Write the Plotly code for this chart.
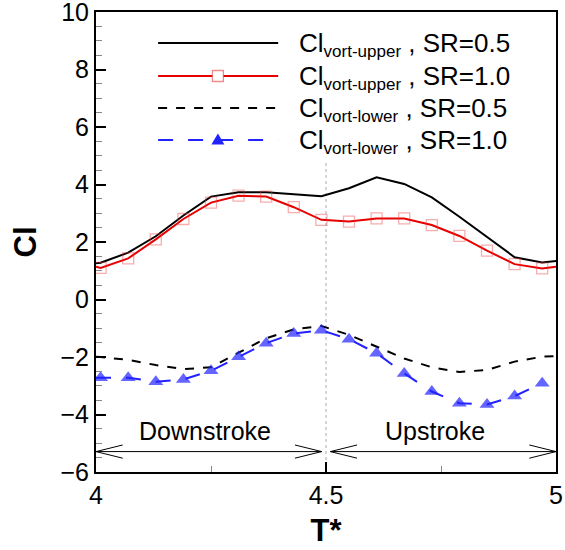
import plotly.graph_objects as go

# ---------------- data ----------------
T = [4.0, 4.01, 4.07, 4.13, 4.19, 4.25, 4.31, 4.37, 4.43, 4.49,
     4.55, 4.61, 4.67, 4.73, 4.79, 4.85, 4.91, 4.97, 5.0]
# line end points (4.0 / 5.0) carry no marker
marker_on = [0, 1, 1, 1, 1, 1, 1, 1, 1, 1, 1, 1, 1, 1, 1, 1, 1, 1, 0]

cl_upper_sr05 = [1.26, 1.28, 1.63, 2.20, 2.92, 3.58, 3.73, 3.73, 3.66, 3.59,
                 3.87, 4.25, 4.02, 3.55, 2.88, 2.16, 1.47, 1.29, 1.34]
cl_upper_sr10 = [1.14, 1.10, 1.43, 2.09, 2.80, 3.37, 3.61, 3.58, 3.21, 2.77,
                 2.71, 2.82, 2.82, 2.59, 2.21, 1.70, 1.23, 1.08, 1.14]
cl_lower_sr05 = [-1.99, -2.00, -2.10, -2.28, -2.42, -2.36, -1.85, -1.35, -1.04, -0.92,
                 -1.23, -1.64, -2.05, -2.36, -2.52, -2.45, -2.16, -1.99, -1.97]
cl_lower_sr10 = [-2.72, -2.72, -2.72, -2.86, -2.78, -2.48, -1.99, -1.52, -1.18, -1.07,
                 -1.38, -1.87, -2.57, -3.20, -3.61, -3.65, -3.36, -2.91, None]

series_names = ["Cl<sub>vort-upper</sub> , SR=0.5",
                "Cl<sub>vort-upper</sub> , SR=1.0",
                "Cl<sub>vort-lower</sub> , SR=0.5",
                "Cl<sub>vort-lower</sub> , SR=1.0"]
legend_labels = ["Cl<sub><span style='font-size:17px'>vort-upper</span></sub> , SR=0.5",
                 "Cl<sub><span style='font-size:17px'>vort-upper</span></sub> , SR=1.0",
                 "Cl<sub><span style='font-size:17px'>vort-lower</span></sub> , SR=0.5",
                 "Cl<sub><span style='font-size:17px'>vort-lower</span></sub> , SR=1.0"]

phase_bounds = [4.0, 4.5, 5.0]
phase_labels = ["Downstroke", "Upstroke"]
arrow_level = -5.29
label_level = -4.57

x_ticks = [4, 4.5, 5]
x_ticktext = ["4", "4.5", "5"]

# ---------------- styles ----------------
FONT = "Liberation Sans, Arial, Helvetica, sans-serif"
RED = "#e60000"
RED_MK = "rgba(235,60,60,0.6)"
BLUE = "#2222ff"

fig = go.Figure()

fig.add_trace(go.Scatter(x=T, y=cl_upper_sr05, mode="lines", name=series_names[0],
                         line=dict(color="black", width=2)))
fig.add_trace(go.Scatter(x=T, y=cl_upper_sr10, mode="lines+markers", name=series_names[1],
                         line=dict(color=RED, width=2),
                         marker=dict(symbol="square-open", size=[11 * m for m in marker_on],
                                     color=RED_MK, line=dict(color=RED_MK, width=1.3))))
fig.add_trace(go.Scatter(x=T, y=cl_lower_sr05, mode="lines", name=series_names[2],
                         line=dict(color="black", width=2, dash="9px,9px")))
fig.add_trace(go.Scatter(x=T, y=cl_lower_sr10, mode="lines+markers", name=series_names[3],
                         line=dict(color=BLUE, width=2, dash="15px,15px"),
                         marker=dict(symbol="triangle-up", size=[13 * m for m in marker_on],
                                     color=BLUE, line=dict(width=0))))

shapes = []
annotations = []

# vertical dotted separator at mid-cycle
shapes.append(dict(type="line", xref="x", yref="y", x0=phase_bounds[1], x1=phase_bounds[1],
                   y0=-6, y1=4.8, line=dict(color="#aaaaaa", width=1, dash="dot"), layer="below"))

# stroke arrows
ah_dx = 0.058
ah_dy = 0.23
gap = 0.0095
for i, lab in enumerate(phase_labels):
    a = phase_bounds[i] + (gap if i > 0 else 0)
    b = phase_bounds[i + 1] - (gap if i == 0 else 0)
    shapes.append(dict(type="line", xref="x", yref="y", x0=a, x1=b, y0=arrow_level, y1=arrow_level,
                       line=dict(color="black", width=1)))
    shapes.append(dict(type="path", xref="x", yref="y",
                       path=f"M {a+ah_dx},{arrow_level+ah_dy} L {a},{arrow_level} L {a+ah_dx},{arrow_level-ah_dy}",
                       line=dict(color="black", width=1)))
    shapes.append(dict(type="path", xref="x", yref="y",
                       path=f"M {b-ah_dx},{arrow_level+ah_dy} L {b},{arrow_level} L {b-ah_dx},{arrow_level-ah_dy}",
                       line=dict(color="black", width=1)))
    annotations.append(dict(x=(phase_bounds[i] + phase_bounds[i + 1]) / 2 - 0.013, y=label_level,
                            xref="x", yref="y", text=lab, showarrow=False,
                            font=dict(family=FONT, size=25, color="black"),
                            xanchor="center", yanchor="middle"))

# custom legend (long swatches like the original)
leg_y = [0.9326, 0.8609, 0.7913, 0.7217]
sw_x0, sw_x1, sw_mid = 0.135, 0.396, 0.265
txt_x = 0.437
leg_styles = [dict(color="black", width=2),
              dict(color=RED, width=2),
              dict(color="black", width=2, dash="9px,9px"),
              dict(color=BLUE, width=2, dash="15px,15px")]
for i in range(4):
    shapes.append(dict(type="line", xref="paper", yref="paper", x0=sw_x0, x1=sw_x1,
                       y0=leg_y[i], y1=leg_y[i], line=leg_styles[i]))
    annotations.append(dict(x=txt_x, y=leg_y[i] - 0.004, xref="paper", yref="paper",
                            text=legend_labels[i], showarrow=False,
                            font=dict(family=FONT, size=26, color="black"),
                            xanchor="left", yanchor="middle"))
# legend keys
sq = 11 / 460 / 2
shapes.append(dict(type="rect", xref="paper", yref="paper",
                   x0=sw_mid - sq, x1=sw_mid + sq, y0=leg_y[1] - sq, y1=leg_y[1] + sq,
                   line=dict(color=RED_MK, width=1.3), fillcolor="white"))
tw = 6.5 / 460
th = 11 / 460
shapes.append(dict(type="path", xref="paper", yref="paper",
                   path=f"M {sw_mid-tw},{leg_y[3]-th*0.4} L {sw_mid+tw},{leg_y[3]-th*0.4} L {sw_mid},{leg_y[3]+th*0.6} Z",
                   line=dict(color=BLUE, width=0), fillcolor=BLUE))

fig.update_layout(
    width=565, height=550,
    margin=dict(l=96, r=9, t=12, b=78),
    paper_bgcolor="white", plot_bgcolor="white",
    showlegend=False,
    font=dict(family=FONT, size=25, color="black"),
    shapes=shapes, annotations=annotations,
)
fig.update_xaxes(range=[4, 5], tickvals=x_ticks, ticktext=x_ticktext,
                 ticks="inside", ticklen=10, tickwidth=2, tickcolor="black",
                 minor=dict(dtick=0.25, ticks="inside", ticklen=6, tickwidth=1, tickcolor="#888888"),
                 showline=True, linewidth=2, linecolor="black", mirror=True,
                 showgrid=False, zeroline=False, automargin=False, ticklabeloverflow="allow",
                 tickfont=dict(family=FONT, size=25, color="black"),
                 title=dict(text="<b>T*</b>", font=dict(family=FONT, size=31, color="black"), standoff=11))
fig.update_yaxes(range=[-6, 10], dtick=2,
                 ticks="inside", ticklen=10, tickwidth=2, tickcolor="black",
                 minor=dict(dtick=0.5, ticks="inside", ticklen=6, tickwidth=1, tickcolor="#888888"),
                 showline=True, linewidth=2, linecolor="black", mirror=True,
                 showgrid=False, zeroline=False, automargin=False, ticklabeloverflow="allow",
                 tickfont=dict(family=FONT, size=25, color="black"),
                 title=dict(text="<b>Cl</b>", font=dict(family=FONT, size=31, color="black"), standoff=15))

fig.write_html("out.html")
